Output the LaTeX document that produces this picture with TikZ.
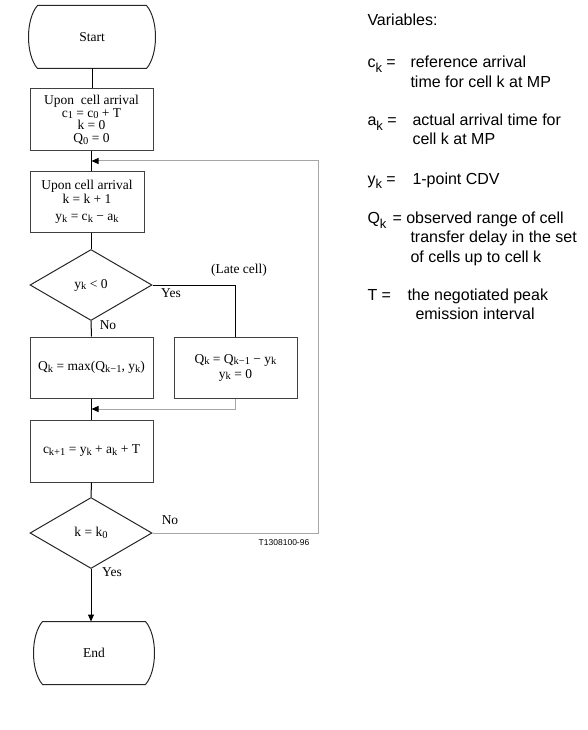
\documentclass[tikz,border=0pt]{standalone}
\usepackage{fontspec}
\setmainfont{Liberation Serif}
\newfontfamily\varfont{Liberation Sans}
\usetikzlibrary{shapes.geometric,arrows.meta}
\newcommand{\sbs}[1]{\raisebox{-1.5pt}{\fontsize{10.5}{10.5}\selectfont #1}}
\newcommand{\vsub}[1]{\raisebox{-5pt}{\fontsize{13}{13}\selectfont #1}}
\tikzset{
  box/.style={draw=black!75, rectangle, minimum width=123pt, minimum height=61pt, align=center, inner sep=1pt},
  test/.style={draw=black!85, diamond, minimum width=122pt, minimum height=71pt, inner sep=0pt},
  term/.style={rectangle, minimum width=108pt, minimum height=62pt, inner sep=0pt},
  lbl/.style={inner sep=0pt},
  var/.style={anchor=base west, inner sep=0pt, font=\varfont\fontsize{16}{19}\selectfont},
  back/.style={draw=gray!70},
  tip/.style={-{Triangle[length=7pt,width=6pt,color=black]}}
}
\begin{document}
\begin{tikzpicture}[x=1pt,y=-1pt,line width=1pt,font=\fontsize{13.5}{12}\selectfont]
    \useasboundingbox (0,0) rectangle (588,730);
    % flow chart
    \node[term] (start) at (92,37) {Start};
    \node[box, minimum height=62pt, font=\fontsize{13.5}{12.8}\selectfont] (init) at (91.5,120) {Upon\ \ cell arrival\\ c\sbs{1} = c\sbs{0} + T\\ k = 0\\ Q\sbs{0} = 0};
    \node[box, minimum width=114pt, minimum height=60pt] (update) at (87,202) {Upon cell arrival\\[1pt] k = k + 1\\[5pt] y\sbs{k} = c\sbs{k} − a\sbs{k}};
    \node[test] (testy) at (91,285) {y\sbs{k} < 0};
    \node[box] (nolate) at (91.5,367.5) {Q\sbs{k} = max(Q\sbs{k−1}, y\sbs{k})};
    \node[box] (late) at (235.5,367.5) {Q\sbs{k} = Q\sbs{k−1} − y\sbs{k}\\[3pt] y\sbs{k} = 0};
    \node[box, minimum height=62pt] (next) at (91.5,451) {c\sbs{k+1} = y\sbs{k} + a\sbs{k} + T};
    \node[test] (testk) at (91,533) {k = k\sbs{0}};
    \node[term, minimum width=102pt] (finish) at (94,653) {End};
    \foreach \t in {start,finish}
        \draw[black!85] (\t.north west) -- (\t.north east) .. controls +(12,14) and +(12,-14) .. (\t.south east) -- (\t.south west) .. controls +(-12,-14) and +(-12,14) .. cycle;
    \coordinate (jtop) at (91.5,161);
    \coordinate (jmid) at (91.5,409);
    \coordinate (corner) at (318,161);

    \node[lbl] (yes1) at (171,293) {Yes};
    \node[lbl] (latelbl) at (239,270) {(Late cell)};
    \node[lbl] (no1) at (108,325) {No};
    \node[lbl] (no2) at (170,520) {No};
    \node[lbl] (yes2) at (112,572) {Yes};
    \node[lbl, font=\varfont\fontsize{8.5}{8.5}\selectfont] (fig) at (284,543) {T1308100-96};

    \draw (start.south) -- (start.south |- init.north); \draw (init.south) -- (init.south |- update.north);
    \draw (testy.north |- update.south) -- (testy.north); \draw (testy.south) -- (nolate.north); \draw (testy.east) -| (late.north);
    \draw (nolate.south) -- (next.north); \draw (next.south) -- (testk.north); \draw[tip] (testk.south) -- (testk.south |- finish.north);
    \draw[back, tip] (testk.east) -| (corner) -- (jtop); \draw[back, tip] (late.south) |- (jmid);

    % variables
    \node[var] (vtitle) at (367,26) {Variables:};
    \node[var] (vc) at (367,68) {c\vsub{k} =};
    \node[var] (vc1) at (410,68) {reference arrival};
    \node[var] (vc2) at (410,88) {time for cell k at MP};
    \node[var] (va) at (367,126) {a\vsub{k} =};
    \node[var] (va1) at (412,126) {actual arrival time for};
    \node[var] (va2) at (412,145) {cell k at MP};
    \node[var] (vy) at (367,184) {y\vsub{k} =};
    \node[var] (vy1) at (412,184) {1-point CDV};
    \node[var] (vq) at (367,223) {Q\vsub{k}};
    \node[var] (vq1) at (392,223) {= observed range of cell};
    \node[var] (vq2) at (410,242) {transfer delay in the set};
    \node[var] (vq3) at (410,262) {of cells up to cell k};
    \node[var] (vt) at (367,300) {T =};
    \node[var] (vt1) at (407,300) {the negotiated peak};
    \node[var] (vt2) at (415,319) {emission interval};
\end{tikzpicture}
\end{document}
